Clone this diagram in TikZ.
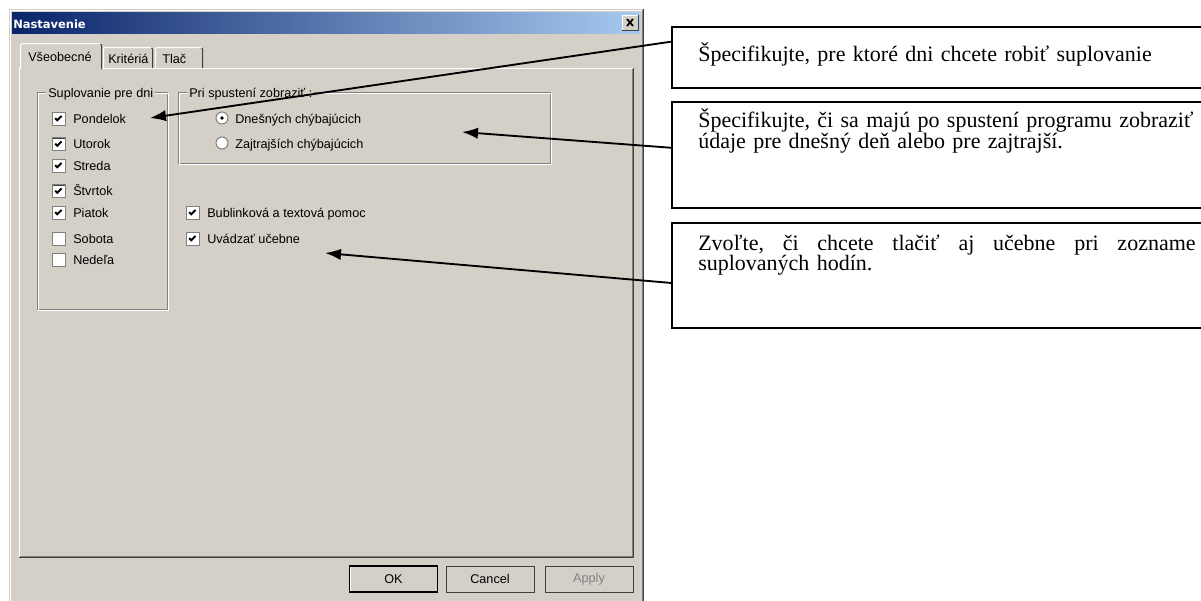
\documentclass[tikz,border=0pt]{standalone}
\usepackage{fontspec}
\setmainfont{Liberation Serif}
\newfontfamily\winfont{Liberation Sans}
\newfontfamily\titlefont{DejaVu Sans}
\usepackage{xcolor}
\usetikzlibrary{calc,shapes,positioning,arrows.meta}

\definecolor{winface}{HTML}{D4D0C8}
\definecolor{winshadow}{HTML}{808080}
\definecolor{windark}{HTML}{404040}
\definecolor{titleleft}{HTML}{0A246A}
\definecolor{titleright}{HTML}{A6CAF0}

\begin{document}
\begin{tikzpicture}[x=0.75pt,y=-0.75pt]
      \tikzstyle{wtext} = [font=\winfont\fontsize{9.5}{11}\selectfont, inner sep=0pt, anchor=base west]
      \tikzstyle{glabel} = [wtext, fill=winface, inner xsep=1.5pt]
      \tikzstyle{chk} = [fill=white, draw=winshadow, line width=0.75pt, minimum size=9.75pt, inner sep=0pt,
        path picture={\draw[windark, line width=2.2pt] (path picture bounding box.south west) -- (path picture bounding box.north west) -- (path picture bounding box.north east);}]
      \tikzstyle{chkon} = [chk, path picture={\draw[windark, line width=2.2pt] (path picture bounding box.south west) -- (path picture bounding box.north west) -- (path picture bounding box.north east);
        \draw[black, line width=1.4pt] ([shift={(-2.5pt,0.3pt)}]path picture bounding box.center) -- ([shift={(-0.9pt,-1.3pt)}]path picture bounding box.center) -- ([shift={(2.3pt,1.9pt)}]path picture bounding box.center);}]
      \tikzstyle{radio} = [circle, fill=white, draw=winshadow, line width=0.75pt, minimum size=9pt, inner sep=0pt]
      \tikzstyle{radioon} = [radio, path picture={\fill[black] (path picture bounding box.center) circle (1.4pt);}]
      \tikzstyle{btn} = [fill=winface, draw=windark, line width=0.75pt, minimum width=66pt, minimum height=19.5pt, inner sep=0pt,
        font=\winfont\fontsize{9.5}{11}\selectfont,
        path picture={\draw[white, line width=1.5pt] (path picture bounding box.south west) -- (path picture bounding box.north west) -- (path picture bounding box.north east);}]
      \tikzstyle{callout} = [draw, line width=1.3pt, minimum width=405pt, anchor=north west, inner sep=0pt]
      \tikzstyle{note} = [anchor=base west, inner sep=0pt, font=\fontsize{16.5}{15}\selectfont, text width=373pt, align=left]
      \tikzstyle{arr} = [line width=1.4pt, -{Latex[length=12pt,width=8.5pt]}]

      \useasboundingbox (0,0) rectangle (1201,600);
      \fill[white] (0,0) rectangle (1201,600);

      % dialog window
      \fill[winface] (9,9) rectangle (644,603);
      \draw[white, line width=0.75pt] (10.5,603) -- (10.5,10.5) -- (642,10.5);
      \draw[winshadow, line width=0.75pt] (642.5,10) -- (642.5,603);
      \draw[windark, line width=0.75pt] (643.5,9) -- (643.5,603);
      \shade[left color=titleleft, right color=titleright] (12,12) rectangle (640,33);
      \node[font=\titlefont\bfseries\fontsize{8.6}{10}\selectfont, text=white, inner sep=0pt, anchor=base west] (title) at (13,28) {Nastavenie};
      \fill[winface] (622,15) rectangle (638,30);
      \draw[white, line width=0.75pt] (622,30) -- (622,15) -- (638,15);
      \draw[windark, line width=0.75pt] (622,30) -- (638,30) -- (638,15);
      \draw[line width=1.3pt] (627,19) -- (633,26) (633,19) -- (627,26);

      % tab pages
      \draw[white, line width=0.75pt] (19.5,557) -- (19.5,68.5) -- (21,68.5) (101,68.5) -- (633,68.5);
      \draw[winshadow, line width=0.75pt] (632.5,69) -- (632.5,556.5) -- (20,556.5);
      \draw[windark, line width=0.75pt] (633.5,68) -- (633.5,557.5) -- (19,557.5);
      \fill[winface] (20,69) -- (20,45) -- (22,43) -- (100,43) -- (102,45) -- (102,69) -- cycle;
      \draw[white, line width=0.75pt] (20.5,69) -- (20.5,45) -- (22,43.5) -- (100,43.5);
      \draw[windark, line width=0.75pt] (100.5,44) -- (101.5,45) -- (101.5,69);
      \draw[white, line width=0.75pt] (103.5,68) -- (103.5,48) -- (105,47.5) -- (151,47.5);
      \draw[windark, line width=0.75pt] (151.5,48) -- (152.5,49) -- (152.5,68);
      \draw[white, line width=0.75pt] (155.5,68) -- (155.5,48) -- (157,47.5) -- (201,47.5);
      \draw[windark, line width=0.75pt] (201.5,48) -- (202.5,49) -- (202.5,68);
      \node[wtext] (tab1) at (28,61.5) {Všeobecné};
      \node[wtext] (tab2) at (108,63) {Kritériá};
      \node[wtext] (tab3) at (162,63) {Tlač};

      % group boxes
      \draw[winshadow, line width=0.75pt] (37,92) rectangle (167,309);
      \draw[white, line width=0.75pt] (38,93) rectangle (168,310);
      \draw[winshadow, line width=0.75pt] (178,92) rectangle (550,163);
      \draw[white, line width=0.75pt] (179,93) rectangle (551,164);
      \node[glabel] (grp1) at (46,97) {Suplovanie pre dni};
      \node[glabel] (grp2) at (187,97) {Pri spustení zobraziť :};

      % days
      \node[chkon] (pon) at (58.5,118.5) {};
      \node[chkon] (uto) at (58.5,144) {};
      \node[chkon] (str) at (58.5,165.5) {};
      \node[chkon] (stv) at (58.5,191) {};
      \node[chkon] (pia) at (58.5,212.5) {};
      \node[chk] (sob) at (58.5,238.5) {};
      \node[chk] (ned) at (58.5,259.5) {};
      \node[wtext] (tpon) at (73,123) {Pondelok};
      \node[wtext] (tuto) at (73,148.5) {Utorok};
      \node[wtext] (tstr) at (73,170) {Streda};
      \node[wtext] (tstv) at (73,195.5) {Štvrtok};
      \node[wtext] (tpia) at (73,217) {Piatok};
      \node[wtext] (tsob) at (73,243) {Sobota};
      \node[wtext] (tned) at (73,264) {Nedeľa};

      % start options
      \node[radioon] (dnes) at (222,118) {};
      \node[radio] (zajt) at (222,143) {};
      \node[wtext] (tdnes) at (235,123) {Dnešných chýbajúcich};
      \node[wtext] (tzajt) at (235,148) {Zajtrajších chýbajúcich};

      \node[chkon] (bub) at (192.5,212.5) {};
      \node[chkon] (uva) at (192.5,238.5) {};
      \node[wtext] (tbub) at (207,217) {Bublinková a textová pomoc};
      \node[wtext] (tuva) at (207,243) {Uvádzať učebne};

      % buttons
      \node[btn, draw=black, line width=1.2pt] (ok) at (393.5,579) {OK};
      \node[btn] (cancel) at (490,579) {Cancel};
      \node[btn, text=winshadow] (apply) at (589,579) {Apply};

      % callouts
      \node[callout, minimum height=45.75pt] (box1) at (671,26) {};
      \node[callout, minimum height=79.5pt] (box2) at (671,101) {};
      \node[callout, minimum height=78.75pt] (box3) at (671,222) {};
      \node[note] (note1) at (698,61) {Špecifikujte, pre ktoré dni chcete robiť suplovanie};
      \node[note] (note2) at (698,127) {Špecifikujte, či sa majú po spustení programu zobraziť\\údaje pre dnešný deň alebo pre zajtrajší.};
      \node[note] (note3) at (698,250) {Zvoľte,\hfill či\hfill chcete\hfill tlačiť\hfill aj\hfill učebne\hfill pri\hfill zozname\\suplovaných hodín.};

      \coordinate (tipA) at (150,118);
      \coordinate (tipB) at (462,132);
      \coordinate (tipC) at (325,253);
      % connections
      \draw[arr] ($(box1.north west)!0.25!(box1.south west)$) -- (tipA);
      \draw[arr] ($(box2.north west)!0.434!(box2.south west)$) -- (tipB);
      \draw[arr] ($(box3.north west)!0.571!(box3.south west)$) -- (tipC);
\end{tikzpicture}
\end{document}
